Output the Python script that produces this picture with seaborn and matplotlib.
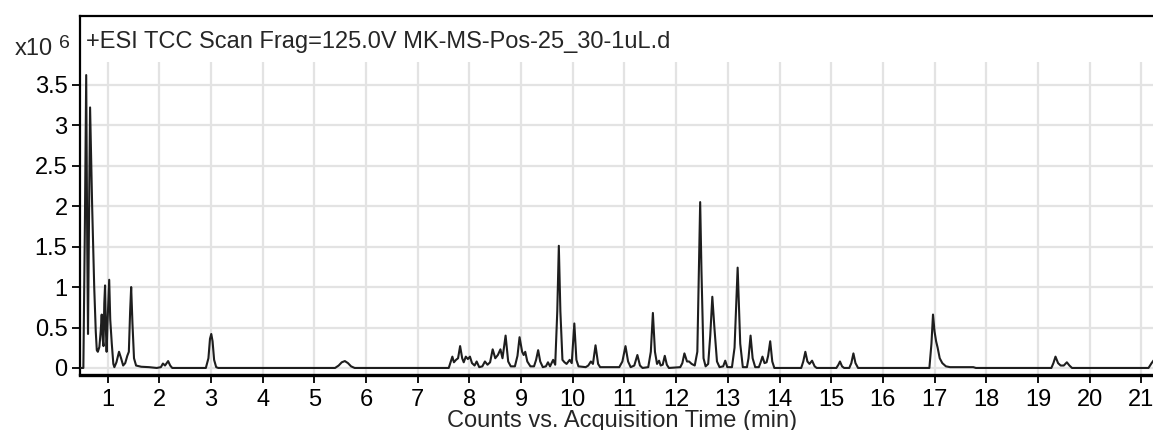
import numpy as np
import pandas as pd
import seaborn as sns
import matplotlib.pyplot as plt

# TIC trace (time in min, counts in units of 1e6)
times = [0.47, 0.53, 0.56, 0.585, 0.605, 0.62, 0.64, 0.66, 0.68, 0.70, 0.74, 0.77, 0.79,
         0.81, 0.84, 0.865, 0.885, 0.905, 0.92, 0.935, 0.95, 0.965, 0.98, 1.0, 1.03, 1.05,
         1.08, 1.11, 1.13, 1.17, 1.22, 1.26, 1.30, 1.34, 1.38, 1.41, 1.435, 1.455, 1.48,
         1.51, 1.55, 1.65, 1.8, 1.95, 2.03, 2.07, 2.11, 2.17, 2.21, 2.25,
         2.9, 2.95, 2.98, 3.005, 3.03, 3.06, 3.10, 3.14,
         5.40, 5.47, 5.53, 5.59, 5.65, 5.71, 5.78,
         7.60, 7.63, 7.67, 7.70, 7.74, 7.78, 7.82, 7.86, 7.89, 7.93, 7.97, 8.01, 8.05, 8.10,
         8.14, 8.19, 8.25, 8.30, 8.35, 8.40, 8.45, 8.50, 8.55, 8.60, 8.64, 8.70, 8.75, 8.80,
         8.88, 8.93, 8.97, 9.02, 9.05, 9.08, 9.12, 9.18, 9.25, 9.29, 9.33, 9.37, 9.42, 9.48,
         9.52, 9.56, 9.62, 9.66, 9.70, 9.73, 9.76, 9.80, 9.84, 9.88, 9.94, 9.98, 10.03, 10.07,
         10.11, 10.25, 10.30, 10.35, 10.39, 10.44, 10.49, 10.53,
         10.90, 10.96, 11.02, 11.07, 11.12, 11.19, 11.25, 11.30, 11.35, 11.46, 11.51, 11.55,
         11.59, 11.63, 11.67, 11.70, 11.74, 11.78, 11.82, 11.86,
         12.08, 12.12, 12.16, 12.21, 12.25, 12.30, 12.36, 12.41, 12.44, 12.465, 12.49, 12.53,
         12.57, 12.62, 12.66, 12.70, 12.74, 12.79, 12.84, 12.91, 12.95, 12.99, 13.08, 13.13,
         13.19, 13.24, 13.29, 13.37, 13.40, 13.44, 13.48, 13.53, 13.60, 13.63, 13.67, 13.71,
         13.75, 13.78, 13.82, 13.86, 13.90,
         14.42, 14.46, 14.50, 14.54, 14.58, 14.63, 14.68, 14.72,
         15.10, 15.14, 15.17, 15.21, 15.25, 15.35, 15.39, 15.43, 15.47, 15.52,
         16.90, 16.94, 16.97, 17.00, 17.03, 17.06, 17.10, 17.15, 17.22, 17.30, 17.75, 17.80,
         19.26, 19.30, 19.34, 19.39, 19.44, 19.50, 19.56, 19.61, 19.66,
         21.14, 21.20, 21.27]
counts = [0.0, 0.0, 1.8, 3.62, 1.5, 0.42, 1.9, 3.22, 2.6, 2.0, 1.0, 0.45, 0.22,
          0.2, 0.26, 0.45, 0.66, 0.35, 0.27, 0.8, 1.02, 0.5, 0.2, 0.6, 1.09, 0.6,
          0.3, 0.05, 0.01, 0.07, 0.2, 0.12, 0.03, 0.06, 0.15, 0.2, 0.7, 1.0, 0.55,
          0.12, 0.03, 0.015, 0.01, 0.0, 0.01, 0.055, 0.03, 0.085, 0.03, 0.0,
          0.0, 0.12, 0.36, 0.42, 0.33, 0.1, 0.01, 0.0,
          0.0, 0.03, 0.07, 0.085, 0.06, 0.02, 0.0,
          0.0, 0.06, 0.14, 0.07, 0.10, 0.12, 0.27, 0.12, 0.07, 0.14, 0.11, 0.14, 0.06, 0.03,
          0.08, 0.01, 0.02, 0.08, 0.04, 0.07, 0.23, 0.12, 0.16, 0.23, 0.12, 0.40, 0.08, 0.02,
          0.02, 0.15, 0.38, 0.2, 0.16, 0.2, 0.08, 0.02, 0.02, 0.1, 0.22, 0.08, 0.01, 0.02,
          0.07, 0.02, 0.1, 0.04, 0.7, 1.51, 0.7, 0.1, 0.07, 0.05, 0.1, 0.06, 0.55, 0.1,
          0.02, 0.01, 0.03, 0.08, 0.05, 0.28, 0.05, 0.01,
          0.01, 0.08, 0.27, 0.08, 0.01, 0.03, 0.16, 0.03, 0.0, 0.01, 0.2, 0.68,
          0.2, 0.05, 0.09, 0.03, 0.04, 0.15, 0.04, 0.0,
          0.01, 0.06, 0.18, 0.08, 0.08, 0.05, 0.03, 0.2, 1.2, 2.05, 1.2, 0.12,
          0.02, 0.05, 0.4, 0.88, 0.5, 0.08, 0.01, 0.02, 0.09, 0.01, 0.01, 0.25,
          1.24, 0.3, 0.01, 0.01, 0.12, 0.40, 0.12, 0.01, 0.01, 0.06, 0.14, 0.06,
          0.07, 0.15, 0.33, 0.08, 0.0,
          0.0, 0.08, 0.2, 0.08, 0.05, 0.09, 0.02, 0.0,
          0.0, 0.04, 0.08, 0.02, 0.0, 0.0, 0.06, 0.18, 0.06, 0.0,
          0.0, 0.3, 0.66, 0.45, 0.33, 0.25, 0.12, 0.06, 0.02, 0.01, 0.01, 0.0,
          0.0, 0.06, 0.14, 0.06, 0.03, 0.03, 0.07, 0.03, 0.0,
          0.0, 0.06, 0.12]

x_ticks = list(range(1, 22))
y_ticks = [0, 0.5, 1, 1.5, 2, 2.5, 3, 3.5]
y_labels = ['0', '0.5', '1', '1.5', '2', '2.5', '3', '3.5']
title = '+ESI TCC Scan Frag=125.0V MK-MS-Pos-25_30-1uL.d'

df = pd.DataFrame({'time': times, 'counts': counts})

sns.set_style('white')
plt.rcParams['font.family'] = ['Liberation Sans', 'DejaVu Sans']

W, H = 1153, 430
fs = 17
fig = plt.figure(figsize=(W / 100, H / 100), dpi=100)
ax = fig.add_axes([80 / W, 1 - 375 / H, 1.01 - 80 / W, (375 - 16) / H])

ax.set_xlim(0.465, 21.45)
ax.set_ylim(-0.087, 4.35)

grid_c = '#e3e3e3'
for yv in y_ticks:
    ax.axhline(yv, color=grid_c, lw=1.6, zorder=0)
ax.vlines(x_ticks, -0.087, 3.78, color=grid_c, lw=1.6, zorder=0)

sns.lineplot(data=df, x='time', y='counts', ax=ax, color='#1e1e1e', lw=1.5,
             estimator=None, sort=False, zorder=3)

ax.set_xticks(x_ticks)
ax.set_xticklabels([str(v) for v in x_ticks])
ax.set_yticks(y_ticks)
ax.set_yticklabels(y_labels)
ax.tick_params(axis='both', labelsize=fs, colors='black', length=6, width=1.3,
               direction='out')
ax.tick_params(axis='x', pad=4)
ax.tick_params(axis='y', pad=3)
ax.tick_params(axis='both', which='both', left=True, bottom=True)
ax.set_xlabel('')
ax.set_ylabel('')

for side in ['left', 'top', 'bottom']:
    ax.spines[side].set_visible(True)
    ax.spines[side].set_color('black')
ax.spines['left'].set_linewidth(1.6)
ax.spines['top'].set_linewidth(1.6)
ax.spines['bottom'].set_linewidth(2.4)
ax.spines['right'].set_visible(False)

fig.text(86 / W, 1 - 48 / H, title, fontsize=fs, va='baseline', ha='left')
fig.text(15 / W, 1 - 55 / H, 'x10', fontsize=fs, va='baseline', ha='left')
fig.text(59 / W, 1 - 48 / H, '6', fontsize=14, va='baseline', ha='left')
fig.text(622 / W, 1 - 427 / H, 'Counts vs. Acquisition Time (min)', fontsize=fs,
         va='baseline', ha='center')

fig.savefig('out.png', dpi=100)
